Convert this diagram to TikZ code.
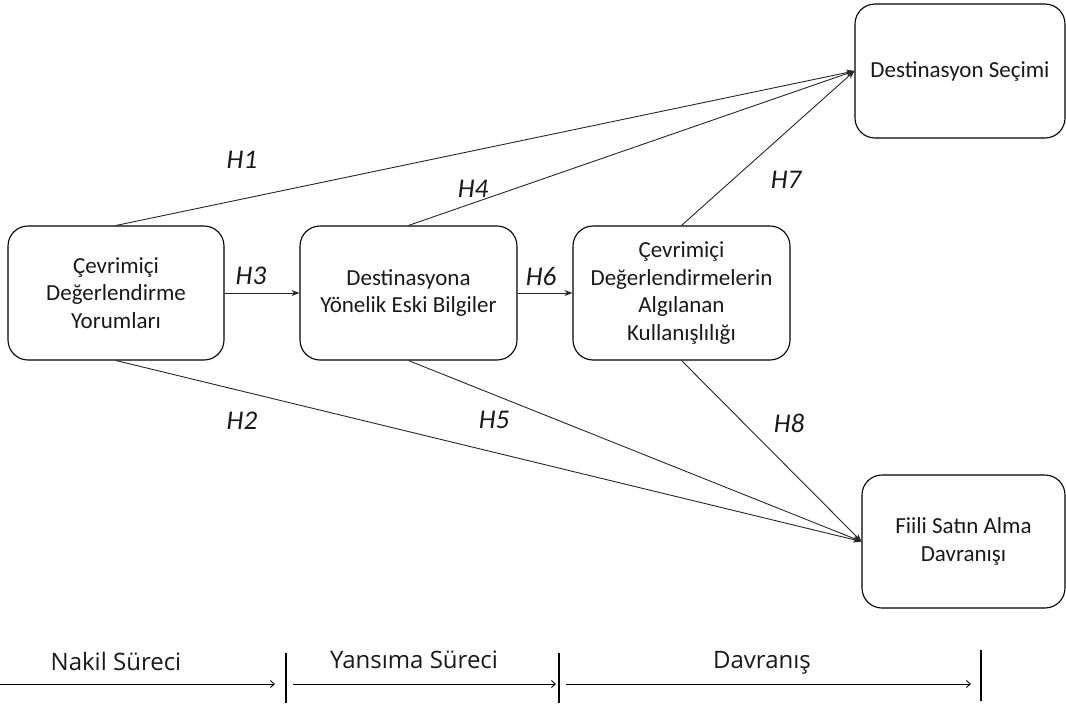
\documentclass[tikz,border=0pt]{standalone}
\usepackage{fontspec}
\setmainfont{Carlito}
\newfontfamily\phasefont{Open Sans}
\usetikzlibrary{positioning, arrows.meta}

\tikzset{
  box/.style={draw, rounded corners=20pt, line width=1.1pt, minimum height=134pt,
    align=center, font=\fontsize{23}{27.5}\selectfont, text=black!90},
  hyp/.style={font=\fontsize{27}{30}\selectfont\itshape, text=black!90},
  link/.style={-{Stealth[length=8pt,width=6pt]}, line width=0.9pt, draw=black!85},
  phase/.style={font=\phasefont\fontsize{24}{28}\selectfont, text=black!90},
  phaseline/.style={-{Straight Barb[length=4pt,width=7pt]}, line width=0.9pt},
  phasebar/.style={line width=2pt}
}

\begin{document}
\begin{tikzpicture}[x=1pt, y=-1pt]
  \useasboundingbox (0,0) rectangle (1066,707);

  % kutular
  \node[box, minimum width=216pt] (yorum) at (116,293) {Çevrimiçi\\Değerlendirme\\Yorumları};
  \node[box, minimum width=217pt] (bilgi) at (408.5,293) {Destinasyona\\Yönelik Eski Bilgiler};
  \node[box, minimum width=217pt] (fayda) at (681.5,293) {Çevrimiçi\\Değerlendirmelerin\\Algılanan\\Kullanışlılığı};
  \node[box, minimum width=210pt] (secim) at (960,71) {Destinasyon Seçimi};
  \node[box, minimum width=203pt, minimum height=133pt] (satin) at (963.5,541.5) {Fiili Satın Alma\\Davranışı};

  % hipotez yollari
  \draw[link] (yorum.north) -- (secim.west);
  \draw[link] (bilgi.north) -- (secim.west);
  \draw[link] (fayda.north) -- (secim.west);
  \draw[link] (yorum.east) -- (bilgi.west);
  \draw[link] (bilgi.east) -- (fayda.west);
  \draw[link] (yorum.south) -- (satin.west);
  \draw[link] (bilgi.south) -- (satin.west);
  \draw[link] (fayda.south) -- (satin.west);

  \node[hyp] (h1) at (242,160) {H1};
  \node[hyp] (h2) at (242,421) {H2};
  \node[hyp] (h3) at (251,276) {H3};
  \node[hyp] (h4) at (473,189) {H4};
  \node[hyp] (h5) at (494,420) {H5};
  \node[hyp] (h6) at (541,276) {H6};
  \node[hyp] (h7) at (786,180) {H7};
  \node[hyp] (h8) at (789,423) {H8};

  % surec ekseni
  \coordinate (p0) at (0,684);
  \coordinate (p1) at (275,684);
  \coordinate (p2) at (293,684);
  \coordinate (p3) at (556,684);
  \coordinate (p4) at (566,684);
  \coordinate (p5) at (971,684);
  \coordinate (b1t) at (285.5,653);
  \coordinate (b1b) at (285.5,703);
  \coordinate (b2t) at (558.5,653);
  \coordinate (b2b) at (558.5,703);
  \coordinate (b3t) at (980.5,650);
  \coordinate (b3b) at (980.5,701);

  \draw[phaseline] (p0) -- (p1);
  \draw[phaseline] (p2) -- (p3);
  \draw[phaseline] (p4) -- (p5);
  \draw[phasebar] (b1t) -- (b1b);
  \draw[phasebar] (b2t) -- (b2b);
  \draw[phasebar] (b3t) -- (b3b);

  \node[phase] (nakil) at (116,661) {Nakil Süreci};
  \node[phase] (yansima) at (414,660) {Yansıma Süreci};
  \node[phase] (davranis) at (762,663) {Davranış};
\end{tikzpicture}
\end{document}
